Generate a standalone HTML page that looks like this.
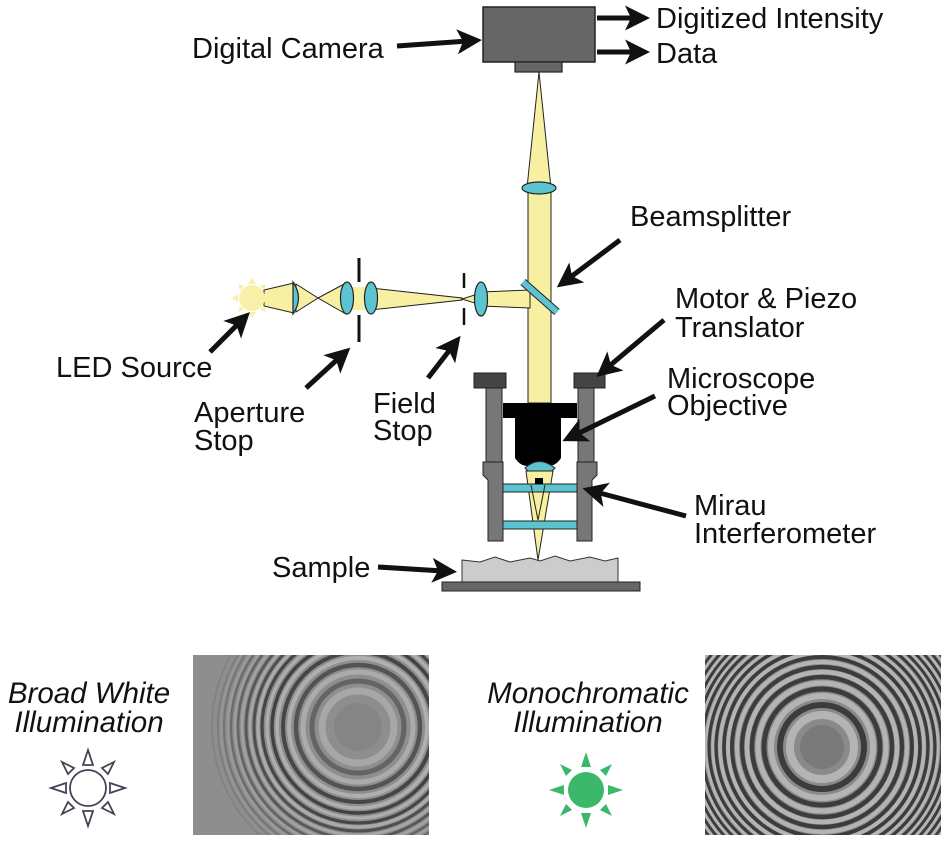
<!DOCTYPE html>
<html><head><meta charset="utf-8"><style>
html,body{margin:0;padding:0;background:#fff;width:950px;height:845px;overflow:hidden;}
svg{display:block;}
text{font-family:"Liberation Sans",sans-serif;fill:#111;}
</style></head><body>
<svg width="950" height="845" viewBox="0 0 950 845" xmlns="http://www.w3.org/2000/svg">
<defs>
<marker id="ah" markerWidth="5" markerHeight="5" refX="2.2" refY="2.5" orient="auto" markerUnits="strokeWidth">
<path d="M0,0 L5,2.5 L0,5 L1.2,2.5 Z" fill="#111"/></marker>
<clipPath id="c1"><rect x="193" y="655" width="236" height="180"/></clipPath>
<clipPath id="c2"><rect x="705" y="655" width="236" height="180"/></clipPath>
</defs>

<rect x="483" y="7" width="112" height="55" fill="#666" stroke="#222" stroke-width="1.5"/>
<rect x="515" y="62" width="47" height="10" fill="#666" stroke="#222" stroke-width="1.2"/>
<polygon points="539,72 527,188 551,188" fill="#f7f0a2" stroke="#222" stroke-width="1"/>
<rect x="528" y="188" width="23" height="215" fill="#f7f0a2" stroke="#222" stroke-width="1"/>
<ellipse cx="539" cy="188" rx="17" ry="6" fill="#5bc4d0" stroke="#222" stroke-width="1.2"/>

<polygon points="264,290 294,283 294,313 264,306" fill="#f7f0a2" stroke="#222" stroke-width="1"/>
<polygon points="296,284 318,298 296,312" fill="#f7f0a2" stroke="#222" stroke-width="1"/>
<polygon points="318,298 346,283 346,314" fill="#f7f0a2" stroke="#222" stroke-width="1"/>
<rect x="346" y="287" width="25" height="23" fill="#f7f0a2"/>
<polygon points="371,288 462,298 462,300 371,310" fill="#f7f0a2" stroke="#222" stroke-width="1"/>
<polygon points="462,299 481,293 481,305" fill="#f7f0a2" stroke="#222" stroke-width="1"/>
<polygon points="481,292 530,290 530,308 481,306" fill="#f7f0a2" stroke="#222" stroke-width="1"/>
<path d="M293,282 Q304,298 293,314 Z" fill="#5bc4d0" stroke="#222" stroke-width="1.2"/>
<ellipse cx="347" cy="298" rx="6.5" ry="16" fill="#5bc4d0" stroke="#222" stroke-width="1.2"/>
<ellipse cx="371" cy="298" rx="6.5" ry="16" fill="#5bc4d0" stroke="#222" stroke-width="1.2"/>
<line x1="359" y1="258" x2="359" y2="282" stroke="#111" stroke-width="3"/>
<line x1="359" y1="315" x2="359" y2="342" stroke="#111" stroke-width="3"/>
<line x1="464" y1="273" x2="464" y2="288" stroke="#111" stroke-width="2.5"/>
<line x1="464" y1="308" x2="464" y2="325" stroke="#111" stroke-width="2.5"/>
<ellipse cx="481" cy="299" rx="6.5" ry="17" fill="#5bc4d0" stroke="#222" stroke-width="1.2"/>
<line x1="523" y1="282" x2="557" y2="312" stroke="#222" stroke-width="8"/>
<line x1="523" y1="282" x2="557" y2="312" stroke="#5bc4d0" stroke-width="6"/>
<g fill="#f8f0a8">
<circle cx="252" cy="298" r="13"/>
<polygon points="252,278 248,284 256,284"/><polygon points="252,318 248,312 256,312"/>
<polygon points="232,298 238,294 238,302"/><polygon points="272,298 266,294 266,302"/>
<polygon points="238,284 244,286 240,290"/><polygon points="266,284 260,286 264,290"/>
<polygon points="238,312 244,310 240,306"/><polygon points="266,312 260,310 264,306"/>
</g>

<rect x="474" y="373" width="32" height="15" fill="#444" stroke="#222"/>
<rect x="574" y="373" width="31" height="15" fill="#444" stroke="#222"/>
<path d="M486,388 H502 V463 H486 Z" fill="#777" stroke="#222"/>
<path d="M578,388 H594 V463 H578 Z" fill="#777" stroke="#222"/>
<path d="M483,462 H503 V541 H488 V480 L483,475 Z" fill="#777" stroke="#222"/>
<path d="M577,462 H597 V475 L592,480 V541 H577 Z" fill="#777" stroke="#222"/>
<rect x="503" y="403" width="74" height="15" fill="#000"/>
<path d="M515,418 H561 V458 Q556,466 548,466 H528 Q520,466 515,458 Z" fill="#000"/>
<path d="M525,468 Q539,455 555,468 L552,471 H528 Z" fill="#5bc4d0" stroke="#222" stroke-width="1"/>
<polygon points="526,471 553,471 538,560" fill="#f7f0a2" stroke="#222" stroke-width="1"/>
<rect x="503" y="484" width="74" height="8" fill="#5bc4d0" stroke="#222" stroke-width="1"/>
<rect x="503" y="521" width="74" height="8" fill="#5bc4d0" stroke="#222" stroke-width="1"/>
<path d="M531,485 L538,520 L545,485" fill="none" stroke="#222" stroke-width="1"/>
<rect x="535" y="478" width="8" height="6" fill="#000"/>
<path d="M462,560 L480,562 L495,557 L510,562 L530,558 L540,561 L555,556 L570,561 L590,557 L605,561 L618,558 V582 H462 Z" fill="#ccc" stroke="#333" stroke-width="1"/>
<rect x="442" y="582" width="198" height="9" fill="#666" stroke="#222"/>

<g stroke="#111" stroke-width="5" marker-end="url(#ah)" fill="none">
<line x1="397" y1="46" x2="468" y2="41"/>
<line x1="597" y1="18" x2="636" y2="18"/>
<line x1="597" y1="52" x2="636" y2="52"/>
<line x1="620" y1="240" x2="568" y2="279"/>
<line x1="664" y1="320" x2="607" y2="368"/>
<line x1="655" y1="396" x2="575" y2="435"/>
<line x1="686" y1="516" x2="596" y2="492"/>
<line x1="378" y1="567" x2="443" y2="571"/>
<line x1="210" y1="352" x2="240" y2="322"/>
<line x1="306" y1="388" x2="340" y2="357"/>
<line x1="428" y1="378" x2="452" y2="347"/>
</g>

<g font-size="29">
<text x="192" y="58">Digital Camera</text>
<text x="656" y="28">Digitized Intensity</text>
<text x="656" y="63">Data</text>
<text x="630" y="226">Beamsplitter</text>
<text x="675" y="308">Motor &amp; Piezo</text>
<text x="675" y="337">Translator</text>
<text x="667" y="388">Microscope</text>
<text x="667" y="415">Objective</text>
<text x="694" y="515">Mirau</text>
<text x="694" y="543">Interferometer</text>
<text x="272" y="577">Sample</text>
<text x="56" y="377">LED Source</text>
<text x="194" y="422">Aperture</text>
<text x="194" y="450">Stop</text>
<text x="373" y="413">Field</text>
<text x="373" y="440">Stop</text>
</g>
<g font-size="29.5" font-style="italic" text-anchor="middle">
<text x="89" y="703">Broad White</text>
<text x="89" y="732">Illumination</text>
<text x="588" y="703">Monochromatic</text>
<text x="588" y="732">Illumination</text>
</g>

<g fill="#fff" stroke="#445" stroke-width="1.8">
<circle cx="88" cy="788" r="18"/>
<polygon points="88,750 83,765 93,765"/><polygon points="88,826 83,811 93,811"/>
<polygon points="51,788 66,783 66,793"/><polygon points="125,788 110,783 110,793"/>
<polygon points="62,762 74,768 68,774"/><polygon points="114,762 102,768 108,774"/>
<polygon points="62,814 74,808 68,802"/><polygon points="114,814 102,808 108,802"/>
</g>
<g fill="#3cb86a">
<circle cx="586" cy="790" r="18"/>
<polygon points="586,752 581,767 591,767"/><polygon points="586,828 581,813 591,813"/>
<polygon points="549,790 564,785 564,795"/><polygon points="623,790 608,785 608,795"/>
<polygon points="560,764 572,770 566,776"/><polygon points="612,764 600,770 606,776"/>
<polygon points="560,816 572,810 566,804"/><polygon points="612,816 600,810 606,804"/>
</g>

<!-- image 1 -->
<g clip-path="url(#c1)">
<rect x="193" y="655" width="236" height="180" fill="#8e8e8e"/>
<circle cx="358" cy="727" r="24" fill="#858585"/>
<g fill="none" stroke="#b8b8b8">
<circle cx="358" cy="727" r="36" stroke-width="7" opacity=".6"/>
<circle cx="358" cy="727" r="55" stroke-width="5" opacity=".7"/>
<circle cx="358" cy="727" r="69" stroke-width="4" opacity=".8"/>
<circle cx="358" cy="727" r="81" stroke-width="3.5" opacity=".8"/>
<circle cx="358" cy="727" r="91" stroke-width="3" opacity=".8"/>
<circle cx="358" cy="727" r="100" stroke-width="3" opacity=".7"/>
<circle cx="358" cy="727" r="108" stroke-width="2.6" opacity=".6"/>
<circle cx="358" cy="727" r="116" stroke-width="2.4" opacity=".5"/>
<circle cx="358" cy="727" r="123" stroke-width="2.2" opacity=".4"/>
<circle cx="358" cy="727" r="130" stroke-width="2" opacity=".3"/>
<circle cx="358" cy="727" r="137" stroke-width="2" opacity=".2"/>
</g>
<g fill="none" stroke="#3a3a3a">
<circle cx="358" cy="727" r="46" stroke-width="5" opacity=".5"/>
<circle cx="358" cy="727" r="62" stroke-width="4.5" opacity=".7"/>
<circle cx="358" cy="727" r="75" stroke-width="4" opacity=".85"/>
<circle cx="358" cy="727" r="86" stroke-width="3.5" opacity=".9"/>
<circle cx="358" cy="727" r="96" stroke-width="3.2" opacity=".85"/>
<circle cx="358" cy="727" r="104" stroke-width="3" opacity=".75"/>
<circle cx="358" cy="727" r="112" stroke-width="2.8" opacity=".65"/>
<circle cx="358" cy="727" r="120" stroke-width="2.6" opacity=".5"/>
<circle cx="358" cy="727" r="127" stroke-width="2.4" opacity=".4"/>
<circle cx="358" cy="727" r="134" stroke-width="2.2" opacity=".3"/>
<circle cx="358" cy="727" r="140" stroke-width="2" opacity=".2"/>
<circle cx="358" cy="727" r="146" stroke-width="2" opacity=".12"/>
</g>
</g>

<!-- image 2 -->
<g clip-path="url(#c2)">
<rect x="705" y="655" width="236" height="180" fill="#8a8a8a"/>
<circle cx="822" cy="747" r="22" fill="#7a7a7a"/>
<g fill="none" stroke="#b4b4b4">
<circle cx="822" cy="747" r="32" stroke-width="8"/>
<circle cx="822" cy="747" r="51" stroke-width="6"/>
<circle cx="822" cy="747" r="64" stroke-width="5"/>
<circle cx="822" cy="747" r="75" stroke-width="4.5"/>
<circle cx="822" cy="747" r="85" stroke-width="4"/>
<circle cx="822" cy="747" r="94" stroke-width="4"/>
<circle cx="822" cy="747" r="102" stroke-width="3.6"/>
<circle cx="822" cy="747" r="109" stroke-width="3.4"/>
<circle cx="822" cy="747" r="116" stroke-width="3.2"/>
<circle cx="822" cy="747" r="123" stroke-width="3"/>
<circle cx="822" cy="747" r="129" stroke-width="3"/>
<circle cx="822" cy="747" r="135" stroke-width="2.8"/>
<circle cx="822" cy="747" r="141" stroke-width="2.8"/>
<circle cx="822" cy="747" r="147" stroke-width="2.6"/>
</g>
<g fill="none" stroke="#3c3c3c">
<circle cx="822" cy="747" r="42" stroke-width="6"/>
<circle cx="822" cy="747" r="58" stroke-width="5"/>
<circle cx="822" cy="747" r="70" stroke-width="4.5"/>
<circle cx="822" cy="747" r="80" stroke-width="4.2"/>
<circle cx="822" cy="747" r="90" stroke-width="4"/>
<circle cx="822" cy="747" r="98" stroke-width="3.6"/>
<circle cx="822" cy="747" r="106" stroke-width="3.4"/>
<circle cx="822" cy="747" r="113" stroke-width="3.2"/>
<circle cx="822" cy="747" r="120" stroke-width="3"/>
<circle cx="822" cy="747" r="126" stroke-width="3"/>
<circle cx="822" cy="747" r="132" stroke-width="2.8"/>
<circle cx="822" cy="747" r="138" stroke-width="2.8"/>
<circle cx="822" cy="747" r="144" stroke-width="2.6"/>
<circle cx="822" cy="747" r="150" stroke-width="2.6"/>
</g>
</g>
</svg>
</body></html>
